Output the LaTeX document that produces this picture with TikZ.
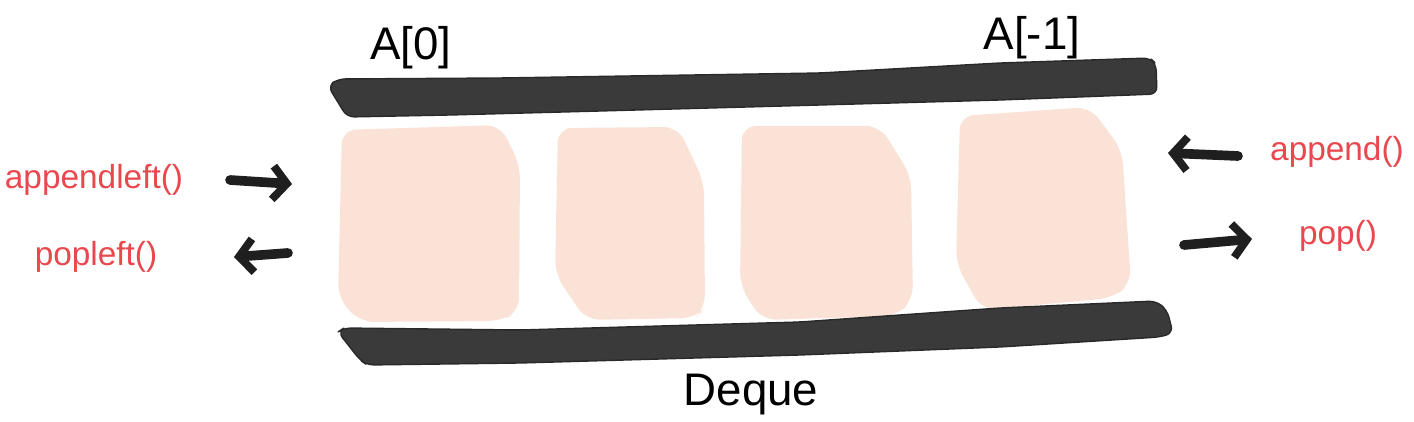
\documentclass[tikz,border=0pt]{standalone}
\usepackage{fontspec}
\setmainfont{Liberation Sans}
\usetikzlibrary{arrows.meta}

\definecolor{balkengrau}{RGB}{58,58,58}
\definecolor{zellfarbe}{RGB}{250,226,214}
\definecolor{methodenrot}{RGB}{232,72,78}

\tikzset{
  balken/.style={fill=balkengrau, draw=balkengrau!70!black, line width=0.8pt, rounded corners=4pt},
  zelle/.style={fill=zellfarbe, rounded corners=8pt},
  index/.style={font=\fontsize{26}{30}\selectfont, anchor=base, inner sep=0pt},
  methode/.style={font=\fontsize{19}{22}\selectfont, text=methodenrot, anchor=base, inner sep=0pt},
  pfeil/.style={-{Straight Barb[length=8pt,width=19pt,line width=4.5pt]}, line width=5.5pt, line cap=round, black!88}
}

\begin{document}
\begin{tikzpicture}[line cap=round,line join=round,x=0.02cm,y=-0.02cm]
		\useasboundingbox (0,0) rectangle (1414,422);

		% Zellen
		\fill[zelle] (342,130) -- (500,125) -- (520,165) -- (519,312) -- (500,321) -- (360,322) -- (338,298) -- cycle;
		\fill[zelle] (558,128) -- (678,127) -- (704,182) -- (705,308) -- (696,318) -- (586,320) -- (555,274) -- cycle;
		\fill[zelle] (742,126) -- (880,126) -- (911,176) -- (913,300) -- (896,316) -- (762,320) -- (740,286) -- cycle;
		\fill[zelle] (960,116) -- (1090,107) -- (1122,150) -- (1131,284) -- (1112,298) -- (982,310) -- (956,264) -- cycle;

		% oberer Balken
		\filldraw[balken] (328,86) -- (338,79) -- (500,78) -- (820,73) -- (1000,63) -- (1150,58) -- (1156,64) -- (1157,94) -- (1000,100) -- (820,105) -- (600,111) -- (450,115) -- (347,117) -- cycle;
		% unterer Balken
		\filldraw[balken] (338,332) -- (344,328) -- (520,330) -- (800,322) -- (1000,308) -- (1156,301) -- (1167,310) -- (1173,333) -- (1160,337) -- (1000,347) -- (800,355) -- (520,363) -- (367,365) -- (360,360) -- cycle;

		% Beschriftung
		\node[index] (erstes) at (411,60) {A[0]};
		\node[index] (letztes) at (1032,50) {A[-1]};
		\node[index] (deque) at (751,405) {Deque};

		\node[methode] (appendleft) at (94,189) {appendleft()};
		\node[methode] (popleft) at (96,266) {popleft()};
		\node[methode] (append) at (1337,161) {append()};
		\node[methode] (pop) at (1338,245) {pop()};

		% Pfeile
		\coordinate (al1) at (230,180);
		\coordinate (al2) at (292,184);
		\coordinate (pl1) at (288,253);
		\coordinate (pl2) at (234,257);
		\coordinate (ap1) at (1238,156);
		\coordinate (ap2) at (1168,153);
		\coordinate (po1) at (1184,245);
		\coordinate (po2) at (1252,239);

		\draw[pfeil] (al1) -- (al2);
		\draw[pfeil] (pl1) -- (pl2);
		\draw[pfeil] (ap1) -- (ap2);
		\draw[pfeil] (po1) -- (po2);
	\end{tikzpicture}
\end{document}
